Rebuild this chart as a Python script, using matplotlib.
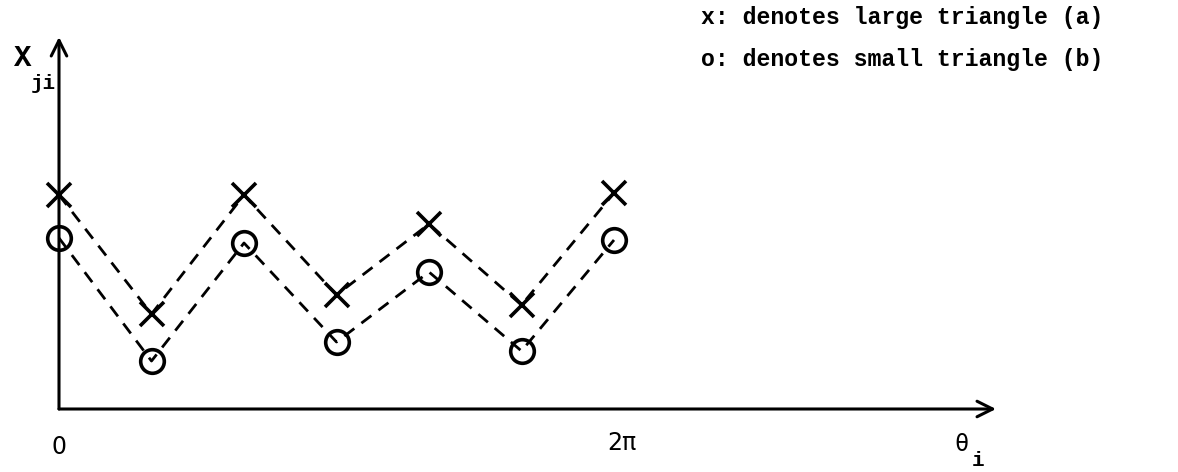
import numpy as np
import matplotlib
matplotlib.use("Agg")
import matplotlib.pyplot as plt

# theta positions, in steps of pi/3 from 0 to 2*pi
theta = np.arange(7) * np.pi / 3
# x: large triangle (a), o: small triangle (b)
x_large = [2.14, 0.95, 2.14, 1.14, 1.85, 1.04, 2.16]
x_small = [1.71, 0.48, 1.66, 0.67, 1.37, 0.58, 1.69]

tick_labels = ["0", "2\u03c0"]
legend_lines = ["x: denotes large triangle (a)", "o: denotes small triangle (b)"]

W, H = 1178, 472
px_x0 = 59      # pixel of theta = 0
px_2pi = 614    # pixel of theta = 2 pi
px_y0 = 409     # pixel of the baseline
sx = (px_2pi - px_x0) / (2 * np.pi)
sy = 100.0


def dx(px):
    return (px - px_x0) / sx


def dy(py):
    return (px_y0 - py) / sy


fig = plt.figure(figsize=(W / 100, H / 100), dpi=100)
ax = fig.add_axes([0, 0, 1, 1])
ax.set_xlim(dx(0), dx(W))
ax.set_ylim(dy(H), dy(0))
ax.set_axis_off()

font = {"family": "Liberation Mono", "weight": "bold"}
plain = {"family": "DejaVu Sans"}

# axes with open arrows
arrow = dict(arrowstyle="->", lw=2.2, color="black", mutation_scale=28,
             shrinkA=0, shrinkB=0)
ax.annotate("", xy=(dx(996), 0), xytext=(0, 0), arrowprops=arrow)
ax.annotate("", xy=(0, dy(37)), xytext=(0, 0), arrowprops=arrow)

style = dict(color="black", lw=2.0, linestyle=(0, (4.5, 3.2)))
ax.plot(theta, x_large, **style)
ax.plot(theta, x_small, **style)
ax.plot(theta, x_large, linestyle="none", marker="x", markersize=17,
        markeredgewidth=2.6, color="black")
ax.plot(theta, x_small, linestyle="none", marker="o", markersize=17,
        markeredgewidth=2.6, markerfacecolor="none", markeredgecolor="black")

# tick labels
ax.text(0, dy(447), tick_labels[0], ha="center", va="center", fontsize=17, **plain)
ax.text(theta[-1] + dx(px_x0 + 8), dy(443), tick_labels[1], ha="center",
        va="center", fontsize=17, **plain)

# axis labels
ax.text(dx(23), dy(58), "X", ha="center", va="center", fontsize=21, **font)
ax.text(dx(43), dy(84), "ji", ha="center", va="center", fontsize=15, **font)
ax.text(dx(962), dy(444), "\u03b8", ha="center", va="center", fontsize=17,
        family="DejaVu Sans Mono")
ax.text(dx(978), dy(461), "i", ha="center", va="center", fontsize=15, **font)

# legend text
ax.text(dx(701), dy(18), legend_lines[0], ha="left", va="center", fontsize=16.7, **font)
ax.text(dx(701), dy(60), legend_lines[1], ha="left", va="center", fontsize=16.7, **font)

fig.savefig("out.png", dpi=100, facecolor="white")
